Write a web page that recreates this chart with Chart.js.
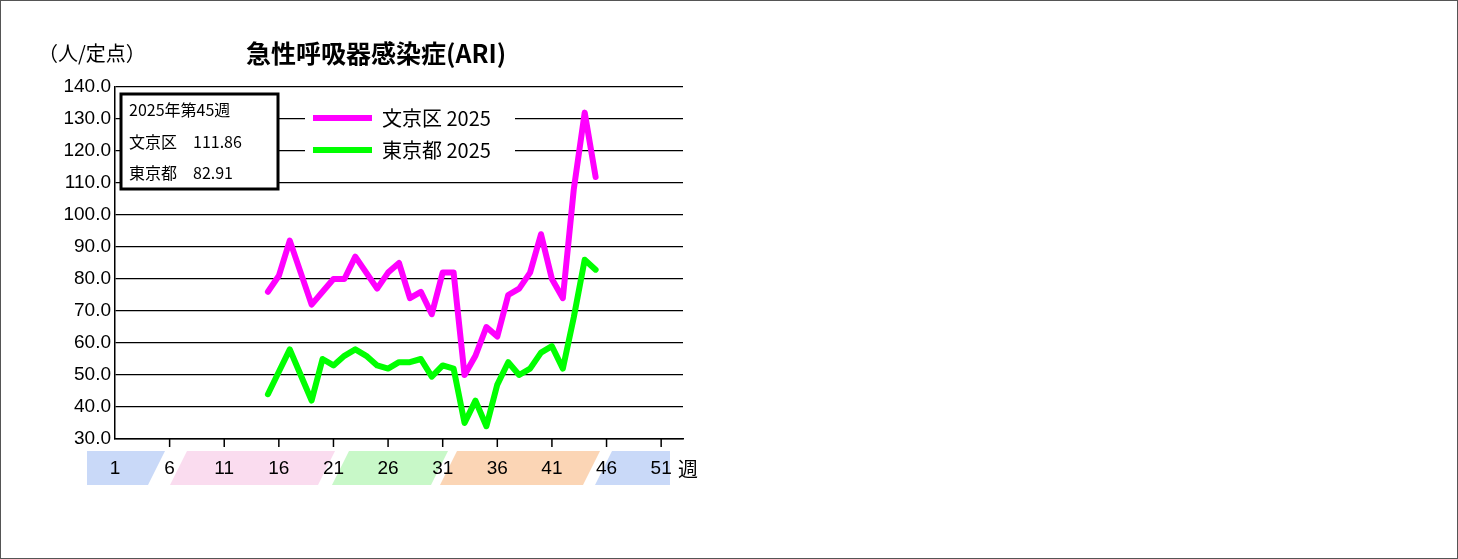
<!DOCTYPE html>
<html><head><meta charset="utf-8">
<script src="https://cdn.jsdelivr.net/npm/chart.js@4"></script>
<style>html,body{margin:0;padding:0;background:#fff}canvas{display:block}</style>
</head><body>
<div style="width:1458px;height:559px"><canvas id="c"></canvas></div>
<script>
const weeks = [15,16,17,18,19,20,21,22,23,24,25,26,27,28,29,30,31,32,33,34,35,36,37,38,39,40,41,42,43,44,45];
const bunkyo = [76,81,92,82,72,76,80,80,87,82,77,82,85,74,76,69,82,82,50,56,65,62,75,77,82,94,80,74,108,132,111.86];
const tokyo = [44,51,58,50,42,55,53,56,58,56,53,52,54,54,55,49.5,53,52,35,42,34,47,54,50,52,57,59,52,68,86,82.91];
const yTicks = [30,40,50,60,70,80,90,100,110,120,130,140];
const weekLabels = [1,6,11,16,21,26,31,36,41,46,51];
const FONT = '"Liberation Sans", Arial, "Noto Sans CJK JP", sans-serif';
const JFONT = '"Noto Sans CJK JP", sans-serif';

const deco = {
  id:'deco',
  beforeDraw(c){
    const g=c.ctx; g.save();
    g.fillStyle='#fff'; g.fillRect(0,0,c.width,c.height);
    const bands=[[87,165,'#c9d9f8'],[170,335,'#fadcef'],[332,448,'#c8f8c8'],[440,600,'#fbd5b5'],[595,670,'#c9d9f8']];
    bands.forEach(([a,b,col],i)=>{
      g.fillStyle=col; g.beginPath();
      g.moveTo(a+(i==0?0:17),451); g.lineTo(b,451);
      g.lineTo(b-(i==4?0:17),485); g.lineTo(a,485); g.closePath(); g.fill();
    });
    g.restore();
  },
  afterDraw(c){
    const g=c.ctx; const x=c.scales.x, ca=c.chartArea; g.save();
    g.strokeStyle='#555'; g.lineWidth=1; g.strokeRect(0.5,0.5,1457,558);
    g.fillStyle='#000'; g.font='bold 25px '+JFONT; g.textAlign='left'; g.textBaseline='middle';
    g.fillText('急性呼吸器感染症(ARI)',246,53);
    g.font='20px '+JFONT; g.fillText('（人/定点）',38,53);
    g.strokeStyle='#000'; g.lineWidth=1.5;
    for(let w=6;w<=51;w+=5){const px=x.getPixelForValue(w);g.beginPath();g.moveTo(px,ca.bottom);g.lineTo(px,ca.bottom+8);g.stroke();}
    g.font='19px '+FONT; g.textAlign='center';
    weekLabels.forEach(w=>g.fillText(String(w),x.getPixelForValue(w),469));
    g.font='20px '+JFONT; g.fillText('週',688,469);
    g.fillStyle='#fff'; g.fillRect(121,94,157,95);
    g.lineWidth=3; g.strokeRect(121,94,157,95);
    g.fillStyle='#000'; g.textAlign='left'; g.font='16px '+JFONT;
    g.fillText('2025年第45週',129,110); g.fillText('文京区　111.86',129,142); g.fillText('東京都　82.91',129,173);
    [[118,'#ff00ff','文京区 2025'],[150,'#00ff00','東京都 2025']].forEach(([y,col,t])=>{
      g.fillStyle='#fff'; g.fillRect(305,y-12,210,24);
      g.strokeStyle=col; g.lineWidth=6; g.beginPath(); g.moveTo(313,y); g.lineTo(372,y); g.stroke();
      g.fillStyle='#000'; g.font='20px '+JFONT; g.fillText(t,382,y);
    });
    g.restore();
  }
};
new Chart(document.getElementById('c'),{
  type:'line',
  data:{datasets:[
    {data:weeks.map((w,i)=>({x:w,y:bunkyo[i]})),borderColor:'#ff00ff',borderWidth:6,pointRadius:0,tension:0,borderJoinStyle:'round',borderCapStyle:'round'},
    {data:weeks.map((w,i)=>({x:w,y:tokyo[i]})),borderColor:'#00ff00',borderWidth:6,pointRadius:0,tension:0,borderJoinStyle:'round',borderCapStyle:'round'}
  ]},
  options:{responsive:true,maintainAspectRatio:false,animation:false,
    layout:{padding:{left:0,top:87,right:775,bottom:120}},
    plugins:{legend:{display:false},tooltip:{enabled:false}},
    scales:{
      x:{type:'linear',min:1,max:53,ticks:{display:false},grid:{display:false},border:{color:'#000',width:1.5},
        afterFit(s){s.height=0;}},
      y:{min:30,max:140,afterBuildTicks(s){s.ticks=yTicks.map(v=>({value:v}));},
        ticks:{color:'#000',font:{size:19,family:FONT},padding:4,callback:v=>v.toFixed(1)},
        grid:{color:'#000',lineWidth:1.3,tickLength:0},border:{color:'#000',width:1.5},
        afterFit(s){s.width=115;}}
    }
  },
  plugins:[deco]
});
</script>
</body></html>
